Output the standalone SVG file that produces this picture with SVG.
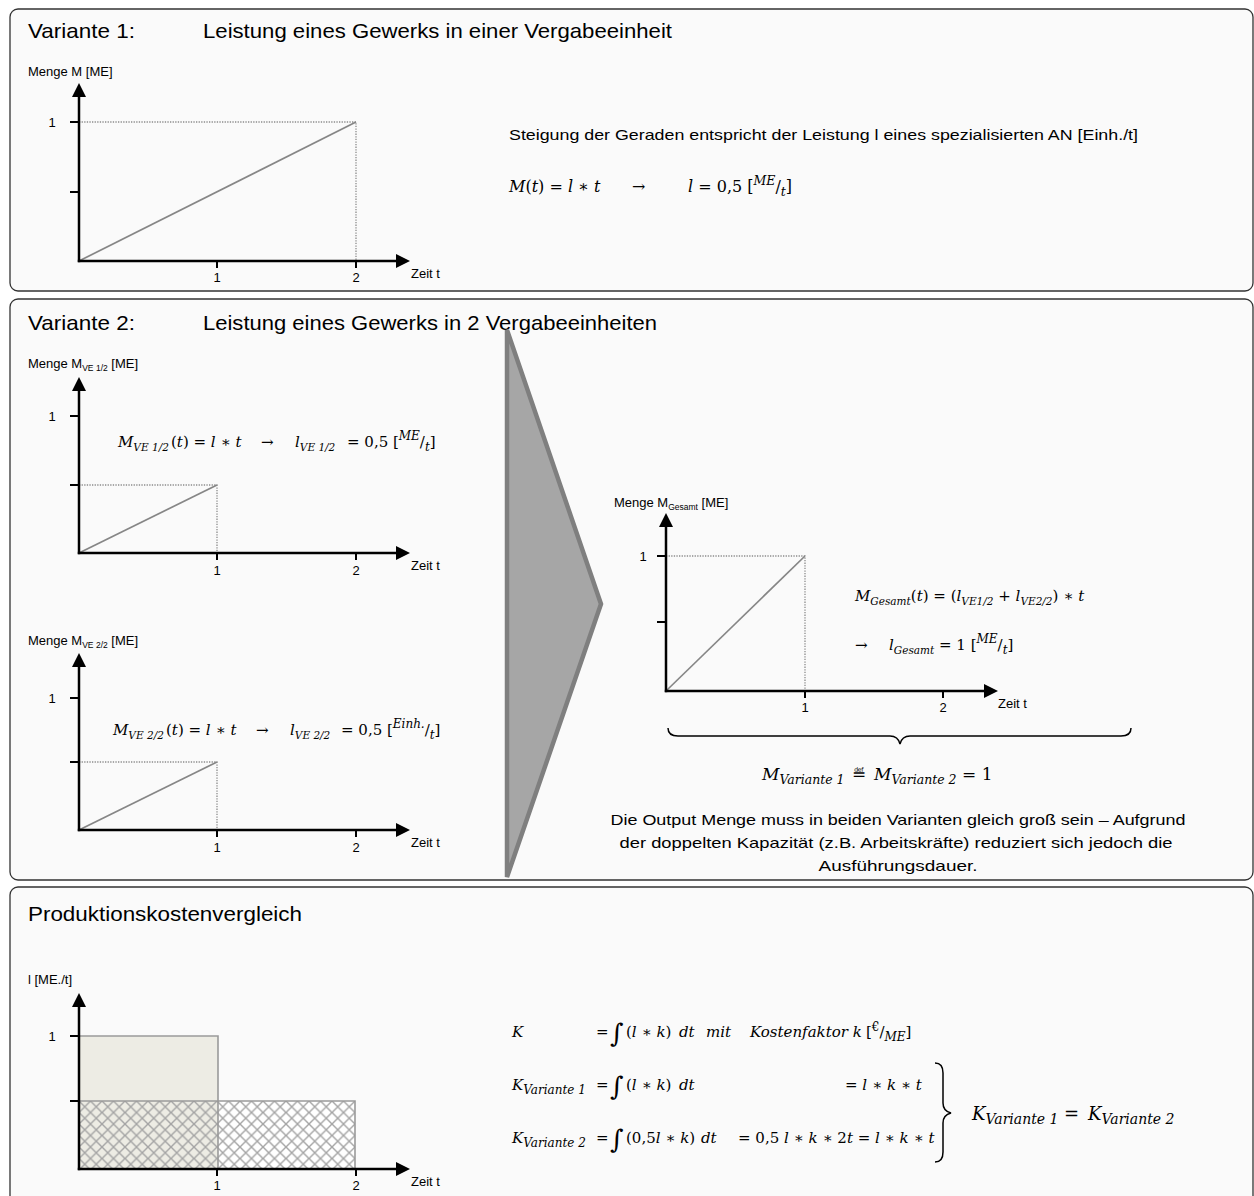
<svg xmlns="http://www.w3.org/2000/svg" width="1254" height="1196" viewBox="0 0 1254 1196">
  <style>
    .panel { fill:#fafafa; stroke:#333; stroke-width:1.3 }
    .axis { stroke:#000; stroke-width:2.5; fill:none }
    .tick { stroke:#000; stroke-width:2; fill:none }
    .curve { stroke:#868686; stroke-width:1.7; fill:none }
    .dot { stroke:#8c8c8c; stroke-width:1.3; stroke-dasharray:1.3 1.3; fill:none }
    .t { font-family:"Liberation Sans", Arial, sans-serif; fill:#000 }
    .title { font-size:21px }
    .lbl { font-size:13px }
    .sub8 { font-size:8.5px }
    .ctr { text-anchor:middle }
    .para { font-size:14.5px }
    .m { font-family:"DejaVu Serif", "Liberation Serif", serif; font-style:italic; font-size:15px; fill:#000 }
    .u { font-style:normal }
    .s { font-size:10.5px }
    .s12 { font-size:12px }
    .brace { stroke:#000; stroke-width:1.5; fill:none }
  </style>
  <defs>
    <marker id="ah" viewBox="0 0 14 14" markerWidth="14" markerHeight="14" refX="8" refY="7" orient="auto" markerUnits="userSpaceOnUse">
      <path d="M0,0 L14,7 L0,14 z" fill="#000"/>
    </marker>
    <pattern id="trellis" patternUnits="userSpaceOnUse" x="79" y="1101" width="11.5" height="11.5">
      <path d="M0,0 L11.5,11.5 M0,11.5 L11.5,0" stroke="#a4a4a4" stroke-width="1.4" fill="none"/>
    </pattern>
  </defs>

  <rect width="1254" height="1196" fill="#fff"/>

  <!-- Variante 1 -->
  <g id="panel-variante1">
    <rect class="panel" x="10" y="9" width="1243" height="282" rx="8"/>
    <text class="t title" x="28" y="38" textLength="107" lengthAdjust="spacingAndGlyphs">Variante 1:</text>
    <text class="t title" x="203" y="38" textLength="469" lengthAdjust="spacingAndGlyphs">Leistung eines Gewerks in einer Vergabeeinheit</text>
  </g>
  <g id="chart-variante1">
    <text class="t lbl" x="28" y="76">Menge M [ME]</text>
    <path class="dot" d="M79,122 H356 V261"/>
    <line class="curve" x1="79" y1="261" x2="356" y2="122"/>
    <line class="axis" x1="79" y1="262.2" x2="79" y2="89" marker-end="url(#ah)"/>
    <line class="axis" x1="77.8" y1="261" x2="404" y2="261" marker-end="url(#ah)"/>
    <path class="tick" d="M70,122H79M70,192H79M217,261V268M356,261V268"/>
    <text class="t lbl ctr" x="52" y="127">1</text>
    <text class="t lbl ctr" x="217" y="282">1</text>
    <text class="t lbl ctr" x="356" y="282">2</text>
    <text class="t lbl" x="411" y="278">Zeit t</text>
  </g>
  <g id="text-variante1">
    <text class="t" x="509" y="140" style="font-size:15px" textLength="629" lengthAdjust="spacingAndGlyphs">Steigung der Geraden entspricht der Leistung l eines spezialisierten AN [Einh./t]</text>
    <text class="m" y="192" style="font-size:16px"><tspan x="509">M</tspan><tspan class="u">(</tspan>t<tspan class="u">) = </tspan>l<tspan class="u"> ∗ </tspan>t<tspan class="u" x="632">→</tspan><tspan x="688">l</tspan><tspan class="u"> = 0,5 [</tspan><tspan dy="-7" style="font-size:12.5px">ME</tspan><tspan class="u" dy="7">/</tspan><tspan dy="4" style="font-size:12.5px">t</tspan><tspan class="u" dy="-4">]</tspan></text>
  </g>

  <!-- Variante 2 -->
  <g id="panel-variante2">
    <rect class="panel" x="10" y="299" width="1243" height="581" rx="8"/>
    <text class="t title" x="28" y="330" textLength="107" lengthAdjust="spacingAndGlyphs">Variante 2:</text>
    <text class="t title" x="203" y="330" textLength="454" lengthAdjust="spacingAndGlyphs">Leistung eines Gewerks in 2 Vergabeeinheiten</text>
  </g>
  <g id="chart-ve1">
    <text class="t lbl" x="28" y="368">Menge M<tspan class="sub8" dy="3">VE 1/2</tspan><tspan dy="-3"> [ME]</tspan></text>
    <path class="dot" d="M79,485 H217 V553"/>
    <line class="curve" x1="79" y1="553" x2="217" y2="485"/>
    <line class="axis" x1="79" y1="554.2" x2="79" y2="383" marker-end="url(#ah)"/>
    <line class="axis" x1="77.8" y1="553" x2="404" y2="553" marker-end="url(#ah)"/>
    <path class="tick" d="M70,416H79M70,485H79M217,553V560M356,553V560"/>
    <text class="t lbl ctr" x="52" y="421">1</text>
    <text class="t lbl ctr" x="217" y="575">1</text>
    <text class="t lbl ctr" x="356" y="575">2</text>
    <text class="t lbl" x="411" y="570">Zeit t</text>
    <text class="m" y="447"><tspan x="118">M</tspan><tspan class="s" dy="4">VE 1/2</tspan><tspan class="u" dy="-4" x="171">(</tspan>t<tspan class="u">) = </tspan>l<tspan class="u"> ∗ </tspan>t<tspan class="u" x="261">→</tspan><tspan x="295">l</tspan><tspan class="s" dy="4">VE 1/2</tspan><tspan class="u" dy="-4" x="347">= 0,5 [</tspan><tspan class="s12" dy="-7">ME</tspan><tspan class="u" dy="7">/</tspan><tspan class="s12" dy="4">t</tspan><tspan class="u" dy="-4">]</tspan></text>
  </g>
  <g id="chart-ve2">
    <text class="t lbl" x="28" y="645">Menge M<tspan class="sub8" dy="3">VE 2/2</tspan><tspan dy="-3"> [ME]</tspan></text>
    <path class="dot" d="M79,762 H217 V830"/>
    <line class="curve" x1="79" y1="830" x2="217" y2="762"/>
    <line class="axis" x1="79" y1="831.2" x2="79" y2="659" marker-end="url(#ah)"/>
    <line class="axis" x1="77.8" y1="830" x2="404" y2="830" marker-end="url(#ah)"/>
    <path class="tick" d="M70,698H79M70,762H79M217,830V837M356,830V837"/>
    <text class="t lbl ctr" x="52" y="703">1</text>
    <text class="t lbl ctr" x="217" y="852">1</text>
    <text class="t lbl ctr" x="356" y="852">2</text>
    <text class="t lbl" x="411" y="847">Zeit t</text>
    <text class="m" y="735"><tspan x="113">M</tspan><tspan class="s" dy="4">VE 2/2</tspan><tspan class="u" dy="-4" x="166">(</tspan>t<tspan class="u">) = </tspan>l<tspan class="u"> ∗ </tspan>t<tspan class="u" x="256">→</tspan><tspan x="290">l</tspan><tspan class="s" dy="4">VE 2/2</tspan><tspan class="u" dy="-4" x="341">= 0,5 [</tspan><tspan class="s12" dy="-7">Einh.</tspan><tspan class="u" dy="7">/</tspan><tspan class="s12" dy="4">t</tspan><tspan class="u" dy="-4">]</tspan></text>
  </g>
  <g id="chart-gesamt">
    <text class="t lbl" x="614" y="507">Menge M<tspan class="sub8" dy="3">Gesamt</tspan><tspan dy="-3"> [ME]</tspan></text>
    <path class="dot" d="M666,556 H805 V691"/>
    <line class="curve" x1="666" y1="691" x2="805" y2="556"/>
    <line class="axis" x1="666" y1="692.2" x2="666" y2="519" marker-end="url(#ah)"/>
    <line class="axis" x1="664.8" y1="691" x2="992" y2="691" marker-end="url(#ah)"/>
    <path class="tick" d="M657,556H666M657,622H666M805,691V698M943,691V698"/>
    <text class="t lbl ctr" x="643" y="561">1</text>
    <text class="t lbl ctr" x="805" y="712">1</text>
    <text class="t lbl ctr" x="943" y="712">2</text>
    <text class="t lbl" x="998" y="708">Zeit t</text>
    <text class="m" y="601"><tspan x="855">M</tspan><tspan class="s" dy="4">Gesamt</tspan><tspan class="u" dy="-4">(</tspan>t<tspan class="u">) = (</tspan>l<tspan class="s" dy="4">VE1/2</tspan><tspan class="u" dy="-4"> + </tspan>l<tspan class="s" dy="4">VE2/2</tspan><tspan class="u" dy="-4">) ∗ </tspan>t</text>
    <text class="m" y="650"><tspan class="u" x="855">→</tspan><tspan x="889">l</tspan><tspan class="s" dy="4">Gesamt</tspan><tspan class="u" dy="-4"> = 1 [</tspan><tspan class="s12" dy="-7">ME</tspan><tspan class="u" dy="7">/</tspan><tspan class="s12" dy="4">t</tspan><tspan class="u" dy="-4">]</tspan></text>
  </g>
  <g id="result-variante2">
    <text class="m" y="780" style="font-size:17px"><tspan x="762">M</tspan><tspan dy="4" style="font-size:12.5px">Variante 1</tspan><tspan class="u" dy="-4" x="852">≝</tspan><tspan x="874">M</tspan><tspan dy="4" style="font-size:12.5px">Variante 2</tspan><tspan class="u" dy="-4"> = 1</tspan></text>
    <text class="t para ctr" x="898" y="825" textLength="575" lengthAdjust="spacingAndGlyphs">Die Output Menge muss in beiden Varianten gleich groß sein – Aufgrund</text>
    <text class="t para ctr" x="896" y="848" textLength="553" lengthAdjust="spacingAndGlyphs">der doppelten Kapazität (z.B. Arbeitskräfte) reduziert sich jedoch die</text>
    <text class="t para ctr" x="898" y="871" textLength="159" lengthAdjust="spacingAndGlyphs">Ausführungsdauer.</text>
  </g>

  <!-- Produktionskostenvergleich -->
  <g id="panel-kosten">
    <rect class="panel" x="10" y="887" width="1243" height="330" rx="8"/>
    <text class="t title" x="28" y="921" textLength="274" lengthAdjust="spacingAndGlyphs">Produktionskostenvergleich</text>
  </g>
  <g id="chart-kosten">
    <text class="t lbl" x="28" y="984">l [ME./t]</text>
    <rect x="218" y="1101" width="137" height="68" fill="#fff"/>
    <rect x="79" y="1036" width="139" height="133" fill="#edece4"/>
    <rect x="79" y="1101" width="276" height="68" fill="url(#trellis)"/>
    <path d="M79,1036 H218 V1169 M79,1101 H355 V1169" stroke="#9a9a9a" stroke-width="1.6" fill="none"/>
    <line class="axis" x1="79" y1="1170.2" x2="79" y2="999" marker-end="url(#ah)"/>
    <line class="axis" x1="77.8" y1="1169" x2="404" y2="1169" marker-end="url(#ah)"/>
    <path class="tick" d="M70,1036H79M70,1101H79M217,1169V1176M356,1169V1176"/>
    <text class="t lbl ctr" x="52" y="1041">1</text>
    <text class="t lbl ctr" x="217" y="1190">1</text>
    <text class="t lbl ctr" x="356" y="1190">2</text>
    <text class="t lbl" x="411" y="1186">Zeit t</text>
  </g>
  <g id="formeln-kosten">
    <text class="m" y="1037"><tspan x="512">K</tspan><tspan class="u" x="596">=</tspan><tspan class="u" x="610" dy="5" style="font-size:26px">∫</tspan><tspan class="u" x="626" dy="-5">(</tspan>l<tspan class="u"> ∗ </tspan>k<tspan class="u">)</tspan><tspan x="679">dt</tspan><tspan x="706">mit</tspan><tspan x="750">Kostenfaktor k</tspan><tspan class="u" x="866">[</tspan><tspan class="u s12" dy="-6">€</tspan><tspan class="u" dy="6">/</tspan><tspan class="s12" dy="4">ME</tspan><tspan class="u" dy="-4">]</tspan></text>
    <text class="m" y="1090"><tspan x="512">K</tspan><tspan class="s12" dy="4">Variante 1</tspan><tspan class="u" x="596" dy="-4">=</tspan><tspan class="u" x="610" dy="5" style="font-size:26px">∫</tspan><tspan class="u" x="626" dy="-5">(</tspan>l<tspan class="u"> ∗ </tspan>k<tspan class="u">)</tspan><tspan x="679">dt</tspan><tspan class="u" x="845">= </tspan>l<tspan class="u"> ∗ </tspan>k<tspan class="u"> ∗ </tspan>t</text>
    <text class="m" y="1143"><tspan x="512">K</tspan><tspan class="s12" dy="4">Variante 2</tspan><tspan class="u" x="596" dy="-4">=</tspan><tspan class="u" x="610" dy="5" style="font-size:26px">∫</tspan><tspan class="u" x="626" dy="-5">(0,5</tspan>l<tspan class="u"> ∗ </tspan>k<tspan class="u">)</tspan><tspan x="701">dt</tspan><tspan class="u" x="738">= 0,5 </tspan>l<tspan class="u"> ∗ </tspan>k<tspan class="u"> ∗ 2</tspan>t<tspan class="u"> = </tspan>l<tspan class="u"> ∗ </tspan>k<tspan class="u"> ∗ </tspan>t</text>
    <text class="m" y="1120" style="font-size:18px"><tspan x="972">K</tspan><tspan dy="4" style="font-size:14px">Variante 1</tspan><tspan class="u" x="1064" dy="-4">=</tspan><tspan x="1088">K</tspan><tspan dy="4" style="font-size:14px">Variante 2</tspan></text>
  </g>

  <!-- Pfeil zwischen den Varianten und Klammern -->
  <g id="connectors">
    <polygon points="507,330 601,604 507,877" fill="#a6a6a6" stroke="#7f7f7f" stroke-width="4.5" stroke-linejoin="miter"/>
    <path class="brace" d="M668,728 q0,8 10,8 L890,736 q8,0 10,8 q2,-8 10,-8 L1121,736 q10,0 10,-8"/>
    <path class="brace" stroke-width="1.8" d="M935,1063 q8,0 8,10 L943,1103 q0,8 8,10 q-8,2 -8,10 L943,1152 q0,10 -8,10"/>
  </g>
</svg>
